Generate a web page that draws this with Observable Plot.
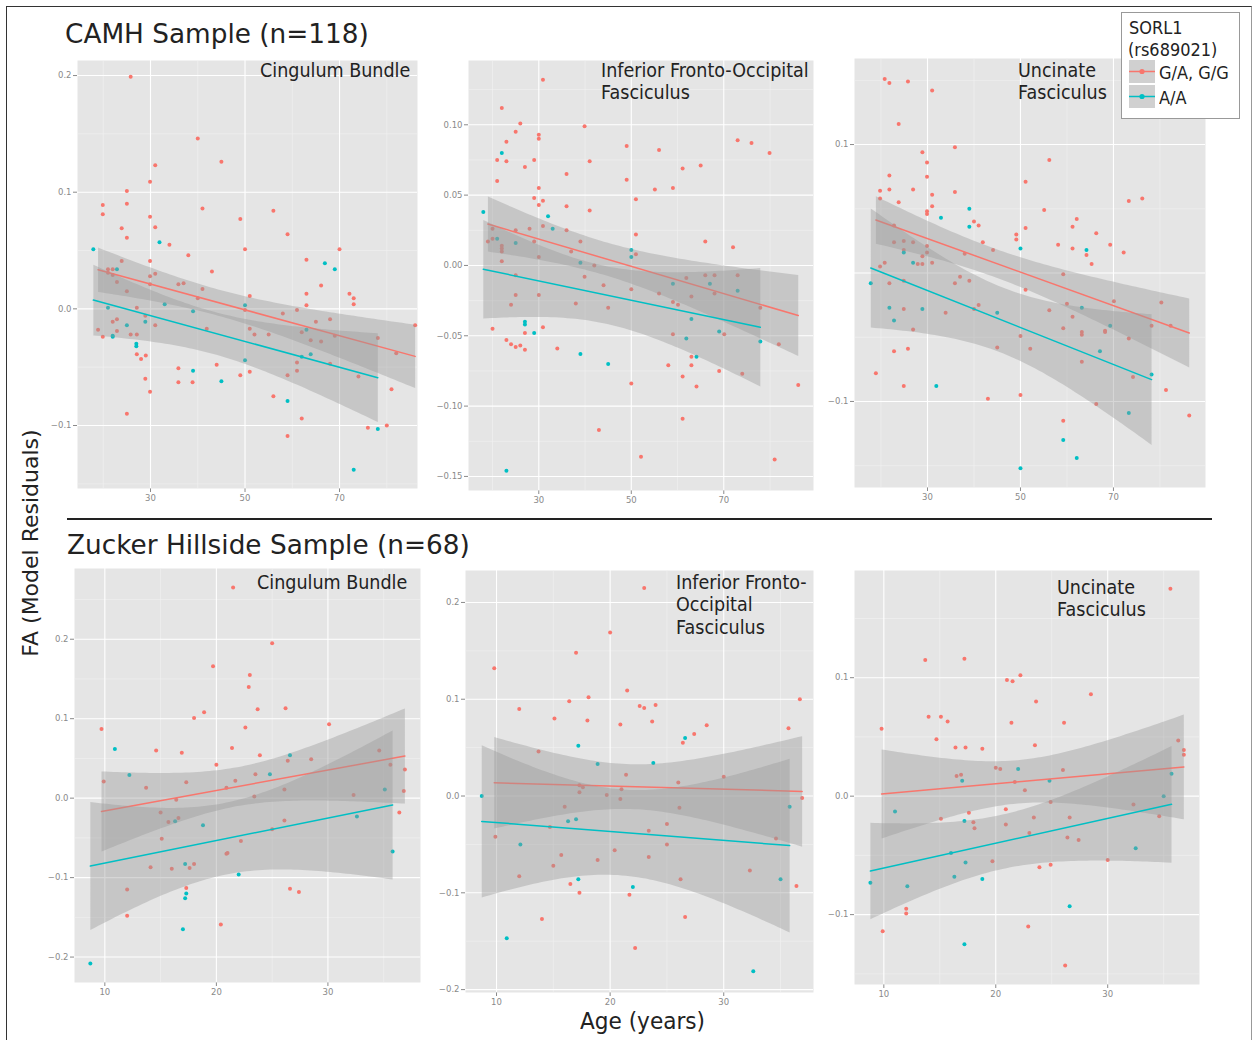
<!DOCTYPE html>
<html><head><meta charset="utf-8">
<script src="https://cdn.jsdelivr.net/npm/d3@7"></script>
<script src="https://cdn.jsdelivr.net/npm/@observablehq/plot@0.6"></script>
<style>
body{margin:0;background:#fff;font-family:"DejaVu Sans",sans-serif;}
#page{position:relative;width:1253px;height:1040px;overflow:hidden;background:#fff;}
.abs{position:absolute;}
.t{position:absolute;white-space:pre;transform-origin:left top;color:#222;}
</style></head>
<body><div id="page"></div>
<script>
// ---------- data: [age, FA residual] ----------
const groups = ["G/A, G/G", "A/A"];
const groupColors = ["#F8766D", "#00BFC4"];

const camhCingulumGG = [[25.8,0.199],[40.0,0.146],[45.0,0.126],[31.0,0.123],[29.9,0.109],[25.0,0.101],[19.9,0.089],[25.0,0.090],[19.9,0.081],[29.9,0.079],[41.0,0.086],[49.0,0.077],[56.0,0.084],[31.0,0.070],[23.9,0.069],[25.0,0.061],[59.0,0.064],[34.0,0.055],[38.0,0.046],[50.0,0.051],[70.0,0.051],[23.9,0.041],[29.9,0.041],[63.0,0.042],[43.0,0.032],[21.0,0.034],[22.0,0.034],[29.9,0.028],[31.0,0.030],[21.0,0.031],[22.9,0.023],[29.9,0.021],[35.9,0.021],[37.0,0.022],[41.0,0.017],[66.1,0.020],[22.0,0.029],[25.0,0.015],[40.0,0.009],[51.0,0.011],[72.1,0.013],[73.0,0.009],[73.0,0.004],[63.0,0.013],[63.0,0.003],[50.0,-0.001],[58.0,-0.004],[61.0,-0.001],[18.9,-0.018],[19.9,-0.024],[22.0,-0.011],[22.9,-0.019],[22.9,-0.009],[27.1,0.001],[28.9,-0.006],[31.0,-0.014],[41.9,-0.017],[51.0,-0.017],[52.0,-0.022],[55.0,-0.022],[62.0,-0.020],[65.0,-0.011],[68.0,-0.009],[69.0,-0.023],[63.9,-0.027],[66.1,-0.028],[78.1,-0.025],[86.0,-0.014],[25.8,-0.022],[27.1,-0.022],[27.1,-0.039],[28.0,-0.043],[29.0,-0.040],[82.0,-0.038],[35.9,-0.051],[44.0,-0.048],[61.0,-0.046],[61.0,-0.053],[68.0,-0.047],[28.9,-0.060],[49.0,-0.057],[51.0,-0.054],[59.0,-0.057],[74.0,-0.058],[35.9,-0.063],[38.9,-0.063],[29.9,-0.071],[81.0,-0.069],[56.0,-0.075],[25.0,-0.090],[62.0,-0.094],[76.0,-0.102],[80.0,-0.100],[59.0,-0.109]];
const camhCingulumAA = [[17.9,0.051],[31.9,0.057],[22.9,0.034],[33.0,0.004],[21.0,0.001],[50.0,0.003],[39.0,-0.002],[25.0,-0.014],[28.9,-0.011],[22.0,-0.024],[22.0,-0.023],[27.0,-0.030],[27.0,-0.032],[63.0,-0.018],[66.9,0.039],[69.0,0.034],[50.0,-0.044],[62.0,-0.041],[63.9,-0.039],[39.0,-0.053],[45.0,-0.062],[59.0,-0.079],[78.1,-0.103],[73.0,-0.138]];

const camhIfofGG = [[30.9,0.132],[22.0,0.112],[26.0,0.101],[39.9,0.099],[25.0,0.095],[30.0,0.093],[30.0,0.090],[23.0,0.088],[73.0,0.089],[76.0,0.087],[79.9,0.080],[49.0,0.085],[56.0,0.082],[21.0,0.075],[23.0,0.074],[29.0,0.075],[41.0,0.074],[27.0,0.070],[61.1,0.069],[65.0,0.071],[21.0,0.060],[49.0,0.061],[36.0,0.065],[55.1,0.054],[59.0,0.055],[30.0,0.055],[29.0,0.048],[51.0,0.047],[30.9,0.046],[30.0,0.043],[36.0,0.042],[41.0,0.039],[30.9,0.028],[28.0,0.026],[25.0,0.025],[36.0,0.025],[20.0,0.026],[19.0,0.017],[20.0,0.019],[29.0,0.017],[39.0,0.017],[51.0,0.022],[66.0,0.017],[72.0,0.013],[22.0,0.014],[22.0,0.012],[22.0,0.010],[37.0,0.010],[22.0,0.003],[30.0,0.006],[51.0,0.008],[42.0,0.000],[25.0,-0.007],[39.9,-0.008],[61.9,-0.009],[66.0,-0.007],[68.0,-0.007],[73.0,-0.007],[44.0,-0.014],[50.0,-0.017],[25.0,-0.021],[30.0,-0.021],[56.0,-0.020],[63.0,-0.022],[68.0,-0.020],[24.0,-0.028],[38.0,-0.027],[59.0,-0.026],[60.1,-0.028],[45.0,-0.030],[77.9,-0.030],[20.0,-0.045],[30.9,-0.044],[27.0,-0.048],[59.0,-0.049],[70.1,-0.049],[23.0,-0.053],[24.0,-0.056],[25.0,-0.058],[26.0,-0.057],[27.0,-0.060],[34.0,-0.059],[81.9,-0.056],[63.0,-0.065],[58.0,-0.071],[63.0,-0.071],[69.0,-0.075],[74.0,-0.077],[61.1,-0.079],[64.1,-0.086],[50.0,-0.084],[86.1,-0.085],[61.1,-0.109],[43.0,-0.117],[52.1,-0.136],[81.0,-0.138]];
const camhIfofAA = [[18.0,0.038],[22.0,0.080],[32.0,0.035],[33.0,0.026],[21.0,0.019],[25.0,0.016],[50.0,0.011],[50.0,0.006],[39.0,0.002],[59.0,-0.013],[67.0,-0.013],[73.0,-0.018],[27.0,-0.040],[27.0,-0.042],[29.0,-0.048],[63.0,-0.038],[61.9,-0.052],[69.0,-0.047],[77.9,-0.054],[39.0,-0.063],[45.0,-0.070],[64.1,-0.065],[23.0,-0.146]];

const camhUncinateGG = [[20.8,0.151],[21.8,0.148],[25.8,0.149],[31.0,0.142],[23.8,0.116],[28.9,0.094],[35.9,0.098],[29.9,0.086],[56.2,0.088],[29.9,0.075],[21.8,0.076],[51.1,0.071],[19.8,0.064],[21.8,0.065],[26.9,0.065],[35.9,0.063],[19.8,0.058],[31.0,0.061],[73.3,0.056],[76.2,0.058],[23.8,0.055],[31.0,0.052],[29.9,0.048],[29.9,0.046],[55.1,0.049],[62.1,0.042],[40.0,0.040],[41.0,0.037],[22.8,0.037],[51.1,0.035],[61.2,0.036],[49.1,0.030],[49.1,0.026],[66.3,0.031],[22.8,0.024],[24.9,0.025],[26.9,0.024],[41.9,0.024],[58.1,0.022],[61.2,0.019],[29.9,0.021],[69.3,0.022],[72.2,0.016],[44.1,0.018],[38.0,0.015],[29.9,0.016],[64.2,0.014],[24.9,0.018],[28.9,0.013],[27.9,0.007],[28.9,0.007],[20.8,0.008],[19.8,0.005],[31.0,0.008],[65.3,0.007],[59.2,-0.001],[37.0,-0.003],[21.8,-0.008],[24.9,-0.006],[35.9,-0.008],[39.0,-0.006],[51.1,-0.013],[70.1,-0.022],[80.3,-0.023],[60.0,-0.024],[41.0,-0.025],[40.0,-0.028],[24.9,-0.028],[33.9,-0.031],[56.2,-0.029],[61.2,-0.034],[78.2,-0.041],[82.3,-0.041],[26.9,-0.044],[59.2,-0.043],[63.2,-0.046],[63.2,-0.048],[68.2,-0.045],[68.2,-0.046],[73.3,-0.051],[50.0,-0.049],[45.0,-0.058],[52.1,-0.059],[22.8,-0.061],[25.8,-0.059],[63.2,-0.069],[18.9,-0.078],[74.2,-0.081],[24.9,-0.088],[81.3,-0.091],[43.0,-0.098],[50.0,-0.095],[66.3,-0.102],[86.3,-0.111],[59.2,-0.115]];
const camhUncinateAA = [[17.8,-0.008],[32.9,0.043],[39.0,0.050],[39.0,0.036],[24.9,0.016],[26.9,0.008],[50.0,0.019],[64.2,0.018],[21.8,-0.027],[22.8,-0.037],[28.9,-0.028],[45.0,-0.031],[63.2,-0.027],[69.3,-0.041],[67.1,-0.061],[78.2,-0.079],[31.9,-0.088],[73.3,-0.109],[59.2,-0.130],[62.1,-0.144],[50.0,-0.152]];

const zhCingulumGG = [[21.5,0.265],[25.0,0.195],[19.7,0.166],[23.0,0.155],[22.9,0.140],[26.2,0.113],[23.7,0.112],[18.9,0.108],[18.0,0.101],[30.1,0.093],[22.6,0.089],[9.7,0.087],[21.4,0.063],[14.6,0.060],[34.6,0.060],[16.9,0.057],[23.9,0.054],[26.4,0.047],[28.5,0.049],[20.0,0.042],[35.6,0.042],[36.9,0.036],[23.5,0.030],[9.9,0.021],[17.3,0.020],[21.7,0.022],[13.7,0.013],[20.9,0.013],[26.1,0.011],[36.8,0.009],[32.3,0.004],[23.4,0.002],[16.4,-0.002],[16.6,-0.025],[15.0,-0.018],[15.7,-0.030],[36.4,-0.018],[26.1,-0.028],[25.0,-0.039],[15.1,-0.051],[22.2,-0.054],[20.9,-0.070],[21.0,-0.069],[14.1,-0.087],[16.0,-0.089],[17.6,-0.088],[18.0,-0.083],[17.3,-0.113],[12.0,-0.115],[26.6,-0.114],[27.4,-0.118],[12.0,-0.148],[20.4,-0.159]];
const zhCingulumAA = [[10.9,0.062],[12.2,0.029],[26.6,0.054],[24.8,0.030],[35.1,0.011],[16.3,-0.029],[18.8,-0.034],[32.6,-0.023],[17.2,-0.083],[35.8,-0.067],[22.0,-0.096],[17.3,-0.120],[17.2,-0.126],[17.0,-0.165],[8.7,-0.208]];

const zhIfofGG = [[23.0,0.215],[20.0,0.169],[17.0,0.148],[9.8,0.132],[21.5,0.109],[36.7,0.100],[18.1,0.102],[16.4,0.098],[12.0,0.090],[22.6,0.093],[23.0,0.091],[24.0,0.094],[15.1,0.080],[18.0,0.078],[20.9,0.074],[23.7,0.077],[28.5,0.073],[35.7,0.070],[27.4,0.064],[26.4,0.055],[13.7,0.046],[21.4,0.022],[30.0,0.020],[26.0,0.014],[17.3,0.011],[17.6,0.009],[21.0,0.007],[17.3,0.004],[19.7,0.001],[36.9,-0.002],[20.9,-0.003],[16.0,-0.011],[26.1,-0.012],[23.4,-0.036],[14.7,-0.032],[25.0,-0.029],[34.6,-0.044],[9.9,-0.042],[25.0,-0.050],[20.4,-0.056],[15.7,-0.061],[23.4,-0.063],[18.9,-0.066],[15.0,-0.072],[32.3,-0.077],[12.0,-0.083],[26.2,-0.086],[16.5,-0.091],[36.4,-0.093],[17.3,-0.100],[21.7,-0.102],[26.6,-0.125],[14.0,-0.127],[22.2,-0.157]];
const zhIfofAA = [[8.7,0.000],[17.2,0.052],[18.9,0.033],[23.8,0.034],[26.6,0.060],[16.3,-0.026],[17.0,-0.024],[35.8,-0.011],[12.1,-0.050],[17.2,-0.086],[22.0,-0.094],[35.0,-0.086],[10.9,-0.147],[32.6,-0.181]];

const zhUncinateGG = [[35.6,0.175],[13.7,0.115],[17.2,0.116],[21.0,0.098],[21.5,0.097],[22.2,0.102],[28.5,0.086],[23.6,0.080],[14.0,0.067],[15.1,0.067],[15.7,0.063],[21.4,0.062],[26.1,0.062],[9.8,0.057],[14.7,0.048],[36.3,0.047],[23.5,0.043],[16.4,0.041],[17.3,0.041],[18.8,0.040],[36.8,0.039],[36.8,0.035],[20.0,0.024],[20.4,0.023],[26.0,0.022],[16.9,0.018],[16.5,0.017],[21.7,0.012],[22.6,0.005],[32.3,-0.007],[24.9,-0.005],[20.9,-0.011],[17.6,-0.014],[15.1,-0.019],[23.4,-0.018],[26.6,-0.018],[34.6,-0.017],[18.0,-0.022],[20.9,-0.024],[18.1,-0.027],[23.0,-0.031],[26.4,-0.035],[27.4,-0.037],[19.7,-0.055],[30.0,-0.054],[23.9,-0.060],[24.9,-0.058],[12.0,-0.095],[12.0,-0.099],[22.9,-0.110],[9.9,-0.114],[26.2,-0.143]];
const zhUncinateAA = [[8.8,-0.073],[11.0,-0.013],[12.1,-0.076],[16.0,-0.048],[16.3,-0.068],[17.0,0.013],[17.2,-0.021],[17.3,-0.056],[18.8,-0.070],[22.0,0.023],[24.8,0.013],[32.5,-0.044],[35.0,0.000],[35.7,0.019],[26.6,-0.093],[17.2,-0.125]];

// tick values
const camhAgeTicks = [30, 50, 70];
const zhAgeTicks = [10, 20, 30];

// ---------- layout ----------
const panels = [
  {gg: camhCingulumGG, aa: camhCingulumAA, rect: [77, 60, 417, 488], xd: [14.55, 86.5], yd: [-0.154, 0.2129],
   xt: camhAgeTicks, xm: [20, 40, 60, 80], yt: [-0.1, 0, 0.1, 0.2], yg: [-0.1, 0, 0.1, 0.2], ym: [-0.15, -0.05, 0.05, 0.15], fmt: ".1f"},
  {gg: camhIfofGG, aa: camhIfofAA, rect: [468, 60, 813, 490], xd: [14.8, 89.4], yd: [-0.160, 0.1457],
   xt: camhAgeTicks, xm: [20, 40, 60, 80], yt: [-0.15, -0.1, -0.05, 0, 0.05, 0.1], yg: [-0.15, -0.1, -0.05, 0, 0.05, 0.1], ym: [-0.125, -0.075, -0.025, 0.025, 0.075, 0.125], fmt: ".2f"},
  {gg: camhUncinateGG, aa: camhUncinateAA, rect: [854, 58, 1205, 487], xd: [14.3, 89.8], yd: [-0.167, 0.167],
   xt: camhAgeTicks, xm: [20, 40, 60, 80], yt: [-0.1, 0.1], yg: [-0.1, 0, 0.1], ym: [-0.15, -0.05, 0.05, 0.15], fmt: ".1f"},
  {gg: zhCingulumGG, aa: zhCingulumAA, rect: [74, 568, 420, 982], xd: [7.28, 38.3], yd: [-0.232, 0.289],
   xt: zhAgeTicks, xm: [15, 25, 35], yt: [-0.2, -0.1, 0, 0.1, 0.2], yg: [-0.2, -0.1, 0, 0.1, 0.2], ym: [-0.15, -0.05, 0.05, 0.15, 0.25], fmt: ".1f"},
  {gg: zhIfofGG, aa: zhIfofAA, rect: [465, 570, 813, 992], xd: [7.27, 37.9], yd: [-0.203, 0.233],
   xt: zhAgeTicks, xm: [15, 25, 35], yt: [-0.2, -0.1, 0, 0.1, 0.2], yg: [-0.2, -0.1, 0, 0.1, 0.2], ym: [-0.15, -0.05, 0.05, 0.15], fmt: ".1f"},
  {gg: zhUncinateGG, aa: zhUncinateAA, rect: [854, 570, 1199, 984], xd: [7.38, 38.2], yd: [-0.159, 0.1905],
   xt: zhAgeTicks, xm: [15, 25, 35], yt: [-0.1, 0, 0.1], yg: [-0.1, 0, 0.1], ym: [-0.15, -0.05, 0.05, 0.15], fmt: ".1f"}
];

const page = document.getElementById("page");
const ML = 40, MB = 22;

for (const p of panels) {
  const rows = [
    ...p.gg.map(([age, fa]) => ({age, fa, geno: groups[0]})),
    ...p.aa.map(([age, fa]) => ({age, fa, geno: groups[1]}))
  ];
  const [L, T, R, B] = p.rect;
  const svg = Plot.plot({
    width: R - L + ML, height: B - T + MB,
    marginLeft: ML, marginRight: 0, marginTop: 0, marginBottom: MB,
    style: {background: "none", fontFamily: "DejaVu Sans", fontSize: "8.5px", color: "#8a8a8a", overflow: "visible"},
    x: {domain: p.xd, ticks: p.xt, tickSize: 4, tickPadding: 2, tickFormat: d3.format("d"), label: null},
    y: {domain: p.yd, ticks: p.yt, tickSize: 4, tickPadding: 2, tickFormat: d3.format(p.fmt), label: null},
    color: {domain: groups, range: groupColors},
    marks: [
      Plot.frame({fill: "#e5e5e5", stroke: "none"}),
      Plot.ruleX(p.xm, {stroke: "#f2f2f2", strokeWidth: 0.6}),
      Plot.ruleY(p.ym, {stroke: "#f2f2f2", strokeWidth: 0.6}),
      Plot.ruleX(p.xt, {stroke: "#ffffff", strokeWidth: 1.1}),
      Plot.ruleY(p.yg, {stroke: "#ffffff", strokeWidth: 1.1}),
      Plot.dot(rows, {x: "age", y: "fa", fill: "geno", r: 2}),
      Plot.linearRegressionY(rows, {x: "age", y: "fa", stroke: "geno", fill: "#999999", fillOpacity: 0.4, strokeWidth: 1.5, ci: 0.95})
    ]
  });
  const wrap = document.createElement("div");
  wrap.className = "abs";
  wrap.style.left = (L - ML) + "px";
  wrap.style.top = T + "px";
  wrap.appendChild(svg);
  page.appendChild(wrap);
}

// ---------- text & decorations ----------
function addText(txt, left, top, size, lh, sx, extra = "") {
  const d = document.createElement("div");
  d.className = "t";
  d.textContent = txt;
  d.style.cssText += `left:${left}px;top:${top}px;font-size:${size}px;line-height:${lh}px;transform:scaleX(${sx});${extra}`;
  page.appendChild(d);
  return d;
}
addText("CAMH Sample (n=118)", 65, 18, 27, 32, 0.975);
addText("Zucker Hillside Sample (n=68)", 67, 529, 27, 32, 0.975);
addText("Cingulum Bundle", 260, 59.5, 19.5, 22, 0.9);
addText("Inferior Fronto-Occipital\nFasciculus", 601, 60, 19.5, 22, 0.9);
addText("Uncinate\nFasciculus", 1018, 59.5, 19.5, 22, 0.9);
addText("Cingulum Bundle", 257, 571.5, 19.5, 22, 0.9);
addText("Inferior Fronto-\nOccipital\nFasciculus", 676, 571.5, 19.5, 22.5, 0.9);
addText("Uncinate\nFasciculus", 1057, 576.5, 19.5, 22, 0.9);
addText("Age (years)", 580, 1007, 23, 28, 0.94);
const yl = addText("FA (Model Residuals)", 31, 543, 22, 26, 1);
yl.style.transformOrigin = "center center";
yl.style.transform = "translate(-50%,-50%) rotate(-90deg)";

// separator & border
const sep = document.createElement("div");
sep.className = "abs";
sep.style.cssText += "left:67px;top:518px;width:1145px;height:2px;background:#222;";
page.appendChild(sep);
const border = document.createElement("div");
border.className = "abs";
border.style.cssText += "left:6px;top:6px;width:1244px;height:1060px;border-left:1.5px solid #333;border-top:1.5px solid #333;border-right:1.5px solid #999;";
page.appendChild(border);

// legend
const lg = document.createElement("div");
lg.className = "abs";
lg.style.cssText += "left:1121px;top:12px;width:117px;height:105px;background:#fff;border:1px solid #999;";
page.appendChild(lg);
addText("SORL1", 1129, 17.5, 17, 20, 0.95);
addText("(rs689021)", 1128, 39.5, 17, 20, 0.95);
groups.forEach((g, i) => {
  const top = 60 + i * 25;
  const k = document.createElement("div");
  k.className = "abs";
  k.style.cssText += `left:1129px;top:${top}px;width:26px;height:23px;`;
  k.innerHTML = `<svg width="26" height="23"><rect width="26" height="23" fill="#d0d0d0"/><line x1="0" x2="26" y1="11.5" y2="11.5" stroke="${groupColors[i]}" stroke-width="1.5"/><circle cx="13" cy="11.5" r="2.6" fill="${groupColors[i]}"/></svg>`;
  page.appendChild(k);
  addText(g, 1159, top + 3, 17, 20, 0.95);
});
</script></body></html>
